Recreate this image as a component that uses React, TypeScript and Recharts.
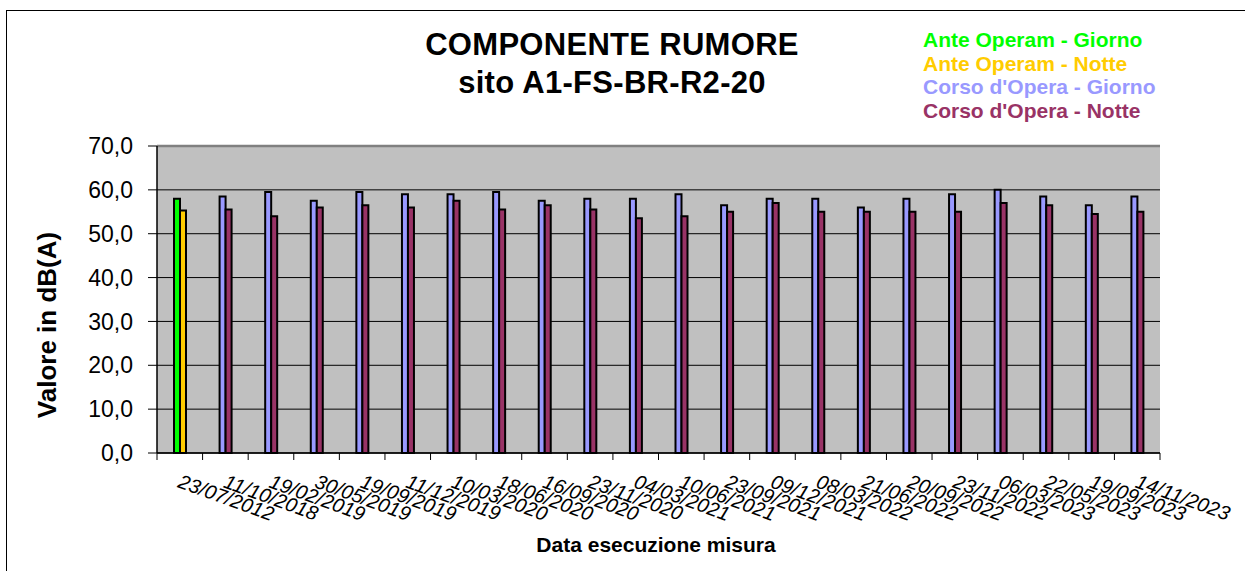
import { BarChart, Bar, XAxis, YAxis, CartesianGrid, ReferenceLine } from 'recharts';

const dates = [
  '23/07/2012', '11/10/2018', '19/02/2019', '30/05/2019', '19/09/2019', '11/12/2019',
  '10/03/2020', '18/06/2020', '16/09/2020', '23/11/2020', '04/03/2021', '10/06/2021',
  '23/09/2021', '09/12/2021', '08/03/2022', '21/06/2022', '20/09/2022', '23/11/2022',
  '06/03/2023', '22/05/2023', '19/09/2023', '14/11/2023',
];

const anteGiorno = [58.0, null, null, null, null, null, null, null, null, null, null, null, null, null, null, null, null, null, null, null, null, null];
const anteNotte = [55.3, null, null, null, null, null, null, null, null, null, null, null, null, null, null, null, null, null, null, null, null, null];
const corsoGiorno = [null, 58.5, 59.5, 57.5, 59.5, 59.0, 59.0, 59.5, 57.5, 58.0, 58.0, 59.0, 56.5, 58.0, 58.0, 56.0, 58.0, 59.0, 60.0, 58.5, 56.5, 58.5];
const corsoNotte = [null, 55.5, 54.0, 56.0, 56.5, 56.0, 57.5, 55.5, 56.5, 55.5, 53.5, 54.0, 55.0, 57.0, 55.0, 55.0, 55.0, 55.0, 57.0, 56.5, 54.5, 55.0];

const yTicks = [0, 10, 20, 30, 40, 50, 60, 70];

const data = dates.map((d, i) => ({
  date: d,
  anteGiorno: anteGiorno[i],
  anteNotte: anteNotte[i],
  corsoGiorno: corsoGiorno[i],
  corsoNotte: corsoNotte[i],
}));

const FONT = '"Liberation Sans", Arial, sans-serif';

const DateTick = (props: any) => {
  const { x, y, payload, index, visibleTicksCount, width } = props;
  const half = width / visibleTicksCount / 2;
  const lx = x - 3;
  const ly = y + 34;
  return (
    <g>
      <line x1={x - half} x2={x - half} y1={y} y2={y + 7} stroke="#000" strokeWidth={1} />
      {index === visibleTicksCount - 1 && (
        <line x1={x + half} x2={x + half} y1={y} y2={y + 7} stroke="#000" strokeWidth={1} />
      )}
      <text
        x={lx}
        y={ly}
        transform={`rotate(20, ${lx}, ${ly})`}
        textAnchor="start"
        fontSize={20}
        fontStyle="italic"
        fontFamily={FONT}
        fill="#000"
      >
        {payload.value}
      </text>
    </g>
  );
};

export default function App() {
  return (
    <div style={{ position: 'absolute', left: 0, top: 0, width: 1245, height: 571, overflow: 'hidden', background: '#fff', fontFamily: FONT }}>
      <div style={{ position: 'absolute', left: 6, top: 10, width: 1300, height: 600, border: '1.5px solid #000' }} />
      <BarChart
        width={1245}
        height={571}
        data={data}
        margin={{ top: 146, right: 85, left: 87, bottom: 18 }}
        barSize={6}
        barGap={0}
        style={{ position: 'absolute', left: 0, top: 0 }}
      >
        <CartesianGrid vertical={false} stroke="#000" strokeWidth={1} fill="#C0C0C0" fillOpacity={1} />
        <XAxis
          dataKey="date"
          height={100}
          interval={0}
          tickSize={0}
          tickMargin={0}
          tickLine={false}
          axisLine={{ stroke: '#000', strokeWidth: 1.5 }}
          tick={<DateTick />}
        />
        <YAxis
          width={70}
          domain={[0, 70]}
          ticks={yTicks}
          interval={0}
          tickSize={9}
          tickMargin={15}
          tickFormatter={(v: number) => v.toFixed(1).replace('.', ',')}
          tick={{ fill: '#000', fontSize: 23, fontFamily: FONT }}
          tickLine={{ stroke: '#000' }}
          axisLine={{ stroke: '#000', strokeWidth: 1.5 }}
        />
        <YAxis
          yAxisId="r"
          orientation="right"
          width={0}
          domain={[0, 70]}
          tick={false}
          tickLine={false}
          axisLine={{ stroke: '#808080', strokeWidth: 2.5 }}
        />
        <ReferenceLine y={70} stroke="#808080" strokeWidth={2.5} />
        <Bar dataKey="anteGiorno" stackId="g" fill="#00FF00" stroke="#000" strokeWidth={2} isAnimationActive={false} />
        <Bar dataKey="corsoGiorno" stackId="g" fill="#9999FF" stroke="#000" strokeWidth={2} isAnimationActive={false} />
        <Bar dataKey="anteNotte" stackId="n" fill="#FFCC00" stroke="#000" strokeWidth={2} isAnimationActive={false} />
        <Bar dataKey="corsoNotte" stackId="n" fill="#993366" stroke="#000" strokeWidth={2} isAnimationActive={false} />
      </BarChart>

      <div style={{ position: 'absolute', left: 312, top: 26, width: 600, textAlign: 'center', fontWeight: 'bold', fontSize: 31, lineHeight: '38px', color: '#000', letterSpacing: 0.3 }}>
        COMPONENTE RUMORE<br />sito A1-FS-BR-R2-20
      </div>

      <div style={{ position: 'absolute', left: 923, top: 28, fontWeight: 'bold', fontSize: 21, lineHeight: '23.7px', whiteSpace: 'nowrap' }}>
        <div style={{ color: '#00FF00' }}>Ante Operam - Giorno</div>
        <div style={{ color: '#FFCC00' }}>Ante Operam - Notte</div>
        <div style={{ color: '#9999FF' }}>Corso d'Opera - Giorno</div>
        <div style={{ color: '#993366' }}>Corso d'Opera - Notte</div>
      </div>

      <div style={{ position: 'absolute', left: 47, top: 325, transform: 'translate(-50%, -50%) rotate(-90deg)', fontWeight: 'bold', fontSize: 26, whiteSpace: 'nowrap' }}>
        Valore in dB(A)
      </div>

      <div style={{ position: 'absolute', left: 656, top: 545, transform: 'translate(-50%, -50%)', fontWeight: 'bold', fontSize: 21, whiteSpace: 'nowrap' }}>
        Data esecuzione misura
      </div>
    </div>
  );
}
